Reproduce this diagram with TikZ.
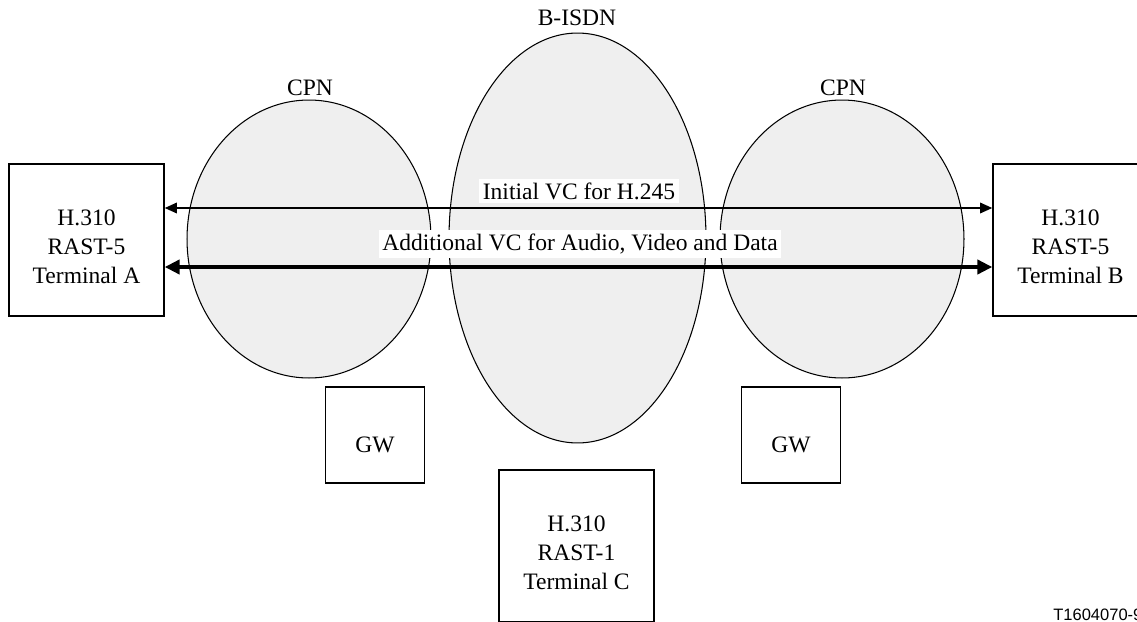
\documentclass[tikz,border=0pt]{standalone}
\usepackage{fontspec}
\setmainfont{Liberation Serif}
\newfontfamily\fignumfont{Liberation Sans}
\usetikzlibrary{arrows.meta,positioning,shapes.geometric}
\definecolor{netgray}{HTML}{EFEFEF}

\begin{document}
\begin{tikzpicture}[
  x=0.02cm, y=-0.02cm,
  font=\fontsize{13.4}{16.7}\selectfont,
  every node/.style={align=center},
  netcloud/.style={ellipse, draw, line width=0.6pt, fill=netgray, inner sep=0pt},
  termbox/.style={rectangle, draw, line width=0.8pt, fill=white, text height=50pt,
                  minimum width=3.1cm, minimum height=3.04cm, inner sep=0pt},
  gwbox/.style={rectangle, draw, line width=0.8pt, fill=white, text height=20pt,
                minimum width=1.97cm, minimum height=1.92cm, inner sep=0pt},
  vclab/.style={fill=white, inner sep=2pt},
  vcthin/.style={line width=1.1pt,
                 {Triangle[length=7pt, width=6pt]}-{Triangle[length=7pt, width=6pt]}},
  vcthick/.style={line width=2.3pt,
                  {Triangle[length=8.5pt, width=8pt]}-{Triangle[length=8.5pt, width=8pt]}}
]
\useasboundingbox (0,0) rectangle (1137,622);

% Networks
\node[netcloud, minimum width=4.88cm, minimum height=5.56cm] (cpnA) at (309, 239) {};
\node[netcloud, minimum width=5.14cm, minimum height=8.2cm]  (isdn) at (577.5, 238) {};
\node[netcloud, minimum width=4.88cm, minimum height=5.56cm] (cpnB) at (842, 239) {};

\node (cpnAlab) at (310, 88) {CPN};
\node (isdnlab) at (577, 18) {B-ISDN};
\node (cpnBlab) at (843, 88) {CPN};

% Terminals
\node[termbox] (termA) at (86.5, 240)   {H.310\\RAST-5\\Terminal A};
\node[termbox] (termB) at (1070.5, 240) {H.310\\RAST-5\\Terminal B};
\node[termbox] (termC) at (576.5, 546)  {H.310\\RAST-1\\Terminal C};

% Gateways
\node[gwbox] (gwA) at (375, 435) {GW};
\node[gwbox] (gwB) at (791, 435) {GW};

% Virtual channels
\draw[vcthin]  (termA.east |- 0,208) -- (termB.west |- 0,208);
\draw[vcthick] (termA.east |- 0,267) -- (termB.west |- 0,267);

\node[vclab] (vcinit) at (579, 191) {Initial VC for H.245};
\node[vclab] (vcadd)  at (580, 244) {Additional VC for Audio, Video and Data};

\node[anchor=north west, inner sep=0pt, font=\fignumfont\fontsize{9.4}{11}\selectfont]
  (fignum) at (1053, 609) {T1604070-97};

\end{tikzpicture}
\end{document}
